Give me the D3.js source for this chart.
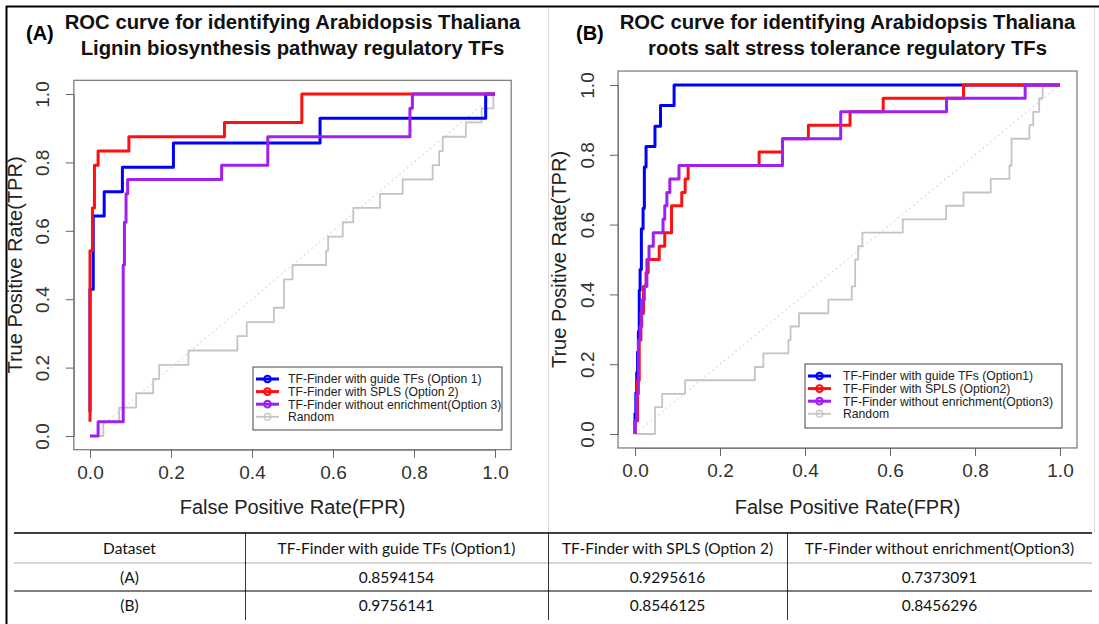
<!DOCTYPE html>
<html><head><meta charset="utf-8">
<script src="https://cdn.jsdelivr.net/npm/d3@7"></script>
<style>body{margin:0;background:#fff}svg{display:block}</style>
</head><body>
<svg id="c" width="1099" height="624"></svg>
<script>
// ---------- data ----------
const axisTicks = [0, 0.2, 0.4, 0.6, 0.8, 1.0];
const tickLabels = ["0.0", "0.2", "0.4", "0.6", "0.8", "1.0"];
const seriesColors = ["#c4c4c4", "#0000ff", "#ff1010", "#a020f0"]; // random, opt1, opt2, opt3

const titleA = ["ROC curve for identifying Arabidopsis Thaliana", "Lignin biosynthesis pathway regulatory TFs"];
const titleB = ["ROC curve for identifying Arabidopsis Thaliana", "roots salt stress tolerance regulatory TFs"];
const legendA = ["TF-Finder with guide TFs (Option 1)", "TF-Finder with SPLS (Option 2)", "TF-Finder without enrichment(Option 3)", "Random"];
const legendB = ["TF-Finder with guide TFs (Option1)", "TF-Finder with SPLS (Option2)", "TF-Finder without enrichment(Option3)", "Random"];

// Panel A (Lignin) ROC points [FPR, TPR]
const ligninGuide = [[0,0.071],[0,0.429],[0.008,0.429],[0.008,0.643],[0.035,0.643],[0.035,0.714],[0.08,0.714],[0.08,0.786],[0.206,0.786],[0.206,0.857],[0.568,0.857],[0.568,0.929],[0.977,0.929],[0.977,1],[1,1]];
const ligninSpls = [[0,0.042],[0,0.542],[0.006,0.542],[0.006,0.667],[0.011,0.667],[0.011,0.792],[0.02,0.792],[0.02,0.833],[0.096,0.833],[0.096,0.875],[0.332,0.875],[0.332,0.917],[0.523,0.917],[0.523,1],[1,1]];
const ligninNoEnrich = [[0,0],[0.02,0],[0.02,0.042],[0.082,0.042],[0.082,0.5],[0.085,0.5],[0.085,0.625],[0.089,0.625],[0.089,0.708],[0.093,0.708],[0.093,0.75],[0.325,0.75],[0.325,0.792],[0.439,0.792],[0.439,0.875],[0.79,0.875],[0.79,0.958],[0.796,0.958],[0.796,1],[1,1]];
const ligninRandom = [[0,0],[0.033,0],[0.033,0.042],[0.072,0.042],[0.072,0.083],[0.114,0.083],[0.114,0.125],[0.156,0.125],[0.156,0.167],[0.171,0.167],[0.171,0.208],[0.243,0.208],[0.243,0.25],[0.364,0.25],[0.364,0.292],[0.387,0.292],[0.387,0.333],[0.454,0.333],[0.454,0.375],[0.479,0.375],[0.479,0.458],[0.5,0.458],[0.5,0.5],[0.583,0.5],[0.583,0.542],[0.588,0.542],[0.588,0.583],[0.624,0.583],[0.624,0.625],[0.65,0.625],[0.65,0.667],[0.716,0.667],[0.716,0.708],[0.772,0.708],[0.772,0.75],[0.846,0.75],[0.846,0.792],[0.862,0.792],[0.862,0.833],[0.871,0.833],[0.871,0.875],[0.928,0.875],[0.928,0.917],[0.967,0.917],[0.967,0.958],[0.996,0.958],[0.996,1],[1,1]];

// Panel B (salt stress) ROC points [FPR, TPR]
const saltGuide = [[0,0],[0,0.059],[0.002,0.059],[0.002,0.118],[0.004,0.118],[0.004,0.176],[0.006,0.176],[0.006,0.235],[0.008,0.235],[0.008,0.294],[0.010,0.294],[0.010,0.412],[0.012,0.412],[0.012,0.471],[0.015,0.471],[0.015,0.588],[0.019,0.588],[0.019,0.647],[0.022,0.647],[0.022,0.765],[0.026,0.765],[0.026,0.824],[0.047,0.824],[0.047,0.882],[0.06,0.882],[0.06,0.941],[0.092,0.941],[0.092,1],[1,1]];
const saltSpls = [[0,0],[0,0.038],[0.006,0.038],[0.006,0.154],[0.01,0.154],[0.01,0.269],[0.014,0.269],[0.014,0.346],[0.02,0.346],[0.02,0.423],[0.026,0.423],[0.026,0.462],[0.031,0.462],[0.031,0.5],[0.057,0.5],[0.057,0.538],[0.07,0.538],[0.07,0.577],[0.086,0.577],[0.086,0.654],[0.11,0.654],[0.11,0.692],[0.118,0.692],[0.118,0.731],[0.125,0.731],[0.125,0.769],[0.292,0.769],[0.292,0.808],[0.347,0.808],[0.347,0.846],[0.408,0.846],[0.408,0.885],[0.506,0.885],[0.506,0.923],[0.584,0.923],[0.584,0.962],[0.773,0.962],[0.773,1],[1,1]];
const saltNoEnrich = [[0,0],[0,0.038],[0.004,0.038],[0.004,0.115],[0.008,0.115],[0.008,0.269],[0.012,0.269],[0.012,0.308],[0.016,0.308],[0.016,0.385],[0.022,0.385],[0.022,0.423],[0.028,0.423],[0.028,0.5],[0.033,0.5],[0.033,0.538],[0.043,0.538],[0.043,0.577],[0.066,0.577],[0.066,0.615],[0.07,0.615],[0.07,0.654],[0.075,0.654],[0.075,0.692],[0.082,0.692],[0.082,0.731],[0.1035,0.731],[0.1035,0.769],[0.347,0.769],[0.347,0.846],[0.484,0.846],[0.484,0.923],[0.733,0.923],[0.733,0.962],[0.918,0.962],[0.918,1],[1,1]];
const saltRandom = [[0,0],[0.047,0],[0.047,0.077],[0.064,0.077],[0.064,0.115],[0.118,0.115],[0.118,0.154],[0.282,0.154],[0.282,0.192],[0.302,0.192],[0.302,0.231],[0.361,0.231],[0.361,0.269],[0.366,0.269],[0.366,0.308],[0.386,0.308],[0.386,0.346],[0.455,0.346],[0.455,0.385],[0.51,0.385],[0.51,0.423],[0.518,0.423],[0.518,0.5],[0.525,0.5],[0.525,0.538],[0.535,0.538],[0.535,0.577],[0.63,0.577],[0.63,0.615],[0.732,0.615],[0.732,0.654],[0.773,0.654],[0.773,0.692],[0.837,0.692],[0.837,0.731],[0.881,0.731],[0.881,0.769],[0.886,0.769],[0.886,0.846],[0.928,0.846],[0.928,0.885],[0.937,0.885],[0.937,0.923],[0.951,0.923],[0.951,0.962],[0.959,0.962],[0.959,1],[1,1]];

// AUC table
const tableHeader = ["Dataset", "TF-Finder with guide TFs (Option1)", "TF-Finder with SPLS (Option 2)", "TF-Finder without enrichment(Option3)"];
const tableDatasets = ["(A)", "(B)"];
const aucOption1 = ["0.8594154", "0.9756141"];
const aucOption2 = ["0.9295616", "0.8546125"];
const aucOption3 = ["0.7373091", "0.8456296"];

// ---------- drawing ----------
const svg = d3.select("#c");
const FONT = "'Liberation Sans', Arial, Helvetica, sans-serif";

// outer frame
svg.append("line").attr("x1",6).attr("x2",1099).attr("y1",6.5).attr("y2",6.5).attr("stroke","#000").attr("stroke-width",2);
svg.append("line").attr("x1",6.5).attr("x2",6.5).attr("y1",6).attr("y2",624).attr("stroke","#000").attr("stroke-width",2);
svg.append("line").attr("x1",548.5).attr("x2",548.5).attr("y1",8).attr("y2",533).attr("stroke","#ddd").attr("stroke-width",1);
svg.append("line").attr("x1",1094.5).attr("x2",1094.5).attr("y1",8).attr("y2",533).attr("stroke","#ddd").attr("stroke-width",1);

function panel(cfg) {
  const x = d3.scaleLinear().domain([0, 1]).range([cfg.x0, cfg.x1]);
  const y = d3.scaleLinear().domain([0, 1]).range([cfg.y0, cfg.y1]);
  const g = svg.append("g");
  const L = x(-0.04), R = x(1.04), T = y(1.04), B = y(-0.04);

  // titles
  g.append("text").attr("x", cfg.tag[0]).attr("y", cfg.tag[1]).text(cfg.tagText)
    .attr("font-family", FONT).attr("font-weight", "bold").attr("font-size", 20).attr("fill", "#000");
  cfg.title.forEach((t, i) => {
    g.append("text").attr("x", (L + R) / 2).attr("y", 29 + i * 26).attr("text-anchor", "middle")
      .attr("font-family", FONT).attr("font-weight", "bold").attr("font-size", 20.3).attr("fill", "#111").text(t);
  });

  // box
  g.append("rect").attr("x", L).attr("y", T).attr("width", R - L).attr("height", B - T)
    .attr("fill", "none").attr("stroke", "#777").attr("stroke-width", 1.2);

  // x axis
  const xa = g.append("g").attr("transform", `translate(0,${B})`)
    .call(d3.axisBottom(x).tickValues(axisTicks).tickFormat((d, i) => tickLabels[i]).tickSize(8).tickPadding(8));
  xa.select(".domain").attr("stroke", "#777");
  xa.selectAll(".tick line").attr("stroke", "#666");
  xa.selectAll("text").attr("font-family", FONT).attr("font-size", 19).attr("fill", "#333");

  // y axis (rotated labels as in R)
  const ya = g.append("g").attr("transform", `translate(${L},0)`)
    .call(d3.axisLeft(y).tickValues(axisTicks).tickFormat((d, i) => tickLabels[i]).tickSize(8));
  ya.select(".domain").attr("stroke", "#777");
  ya.selectAll(".tick line").attr("stroke", "#666");
  ya.selectAll("text").attr("font-family", FONT).attr("font-size", 19).attr("fill", "#333")
    .attr("text-anchor", "middle").attr("dy", 0).attr("x", 0)
    .attr("transform", `translate(${cfg.ylab - L},0) rotate(-90)`);

  // axis titles
  g.append("text").attr("x", (L + R) / 2).attr("y", 514).attr("text-anchor", "middle")
    .attr("font-family", FONT).attr("font-size", 20).attr("fill", "#222").text("False Positive Rate(FPR)");
  g.append("text").attr("transform", `translate(${cfg.ytitle},${(T + B) / 2}) rotate(-90)`).attr("text-anchor", "middle")
    .attr("font-family", FONT).attr("font-size", 20).attr("fill", "#222").text("True Positive Rate(TPR)");

  // diagonal reference
  g.append("line").attr("x1", x(0)).attr("y1", y(0)).attr("x2", x(1)).attr("y2", y(1))
    .attr("stroke", "#bbb").attr("stroke-width", 1).attr("stroke-dasharray", "1.5,3.5");

  const line = d3.line().x(d => x(d[0])).y(d => y(d[1]));
  cfg.series.forEach((s, i) => {
    g.append("path").attr("d", line(s)).attr("fill", "none").attr("stroke", seriesColors[i])
      .attr("stroke-width", i === 0 ? 1.8 : 3).attr("stroke-linejoin", "round");
  });

  // legend
  const lg = cfg.legend;
  g.append("rect").attr("x", lg.x).attr("y", lg.y).attr("width", lg.w).attr("height", lg.h)
    .attr("fill", "#fff").attr("stroke", "#444").attr("stroke-width", 1);
  const order = [1, 2, 3, 0];
  cfg.legendText.forEach((t, i) => {
    const cy = lg.y + 12 + i * 12.6;
    const c = seriesColors[order[i]];
    const w = order[i] === 0 ? 1.8 : 3;
    g.append("line").attr("x1", lg.x + 3).attr("x2", lg.x + 26).attr("y1", cy).attr("y2", cy).attr("stroke", c).attr("stroke-width", w);
    g.append("circle").attr("cx", lg.x + 14.5).attr("cy", cy).attr("r", 3.3).attr("fill", "none").attr("stroke", c).attr("stroke-width", w * 0.7);
    g.append("text").attr("x", lg.x + lg.tx).attr("y", cy + 4.3).attr("font-family", FONT).attr("font-size", 12.2)
      .attr("fill", "#222").text(t);
  });
}

panel({
  x0: 90, x1: 495, y0: 436, y1: 94, ylab: 49, ytitle: 22,
  tag: [26, 40], tagText: "(A)", title: titleA,
  series: [ligninRandom, ligninGuide, ligninSpls, ligninNoEnrich],
  legend: { x: 253, y: 367, w: 249, h: 63, tx: 35 }, legendText: legendA
});
panel({
  x0: 635, x1: 1060, y0: 434, y1: 85, ylab: 594, ytitle: 566,
  tag: [576, 40], tagText: "(B)", title: titleB,
  series: [saltRandom, saltGuide, saltSpls, saltNoEnrich],
  legend: { x: 805, y: 364, w: 257, h: 64, tx: 38 }, legendText: legendB
});

// ---------- table ----------
const colEdges = [14, 245, 548, 787, 1092];
const rowLines = [533, 563, 591, 620];
const tg = svg.append("g");
tg.append("line").attr("x1", colEdges[0]).attr("x2", colEdges[4]).attr("y1", rowLines[0]).attr("y2", rowLines[0]).attr("stroke", "#000").attr("stroke-width", 1.5);
tg.append("line").attr("x1", colEdges[0]).attr("x2", colEdges[4]).attr("y1", rowLines[1]).attr("y2", rowLines[1]).attr("stroke", "#999").attr("stroke-width", 0.8);
tg.append("line").attr("x1", colEdges[0]).attr("x2", colEdges[4]).attr("y1", rowLines[2]).attr("y2", rowLines[2]).attr("stroke", "#000").attr("stroke-width", 1);
[1, 2, 3].forEach(i => {
  tg.append("line").attr("x1", colEdges[i] + 0.5).attr("x2", colEdges[i] + 0.5).attr("y1", rowLines[0]).attr("y2", rowLines[3])
    .attr("stroke", "#000").attr("stroke-width", 0.8);
});
const rows = [tableHeader].concat(tableDatasets.map((d, i) => [d, aucOption1[i], aucOption2[i], aucOption3[i]]));
const TFONT = "Lato, 'Open Sans', sans-serif";
rows.forEach((r, ri) => {
  r.forEach((t, ci) => {
    tg.append("text").attr("x", (colEdges[ci] + colEdges[ci + 1]) / 2).attr("y", (rowLines[ri] + rowLines[ri + 1]) / 2 + 5.5)
      .attr("text-anchor", "middle").attr("font-family", TFONT).attr("font-size", 15.5).attr("fill", "#111").text(t);
  });
});
</script>
</body></html>
